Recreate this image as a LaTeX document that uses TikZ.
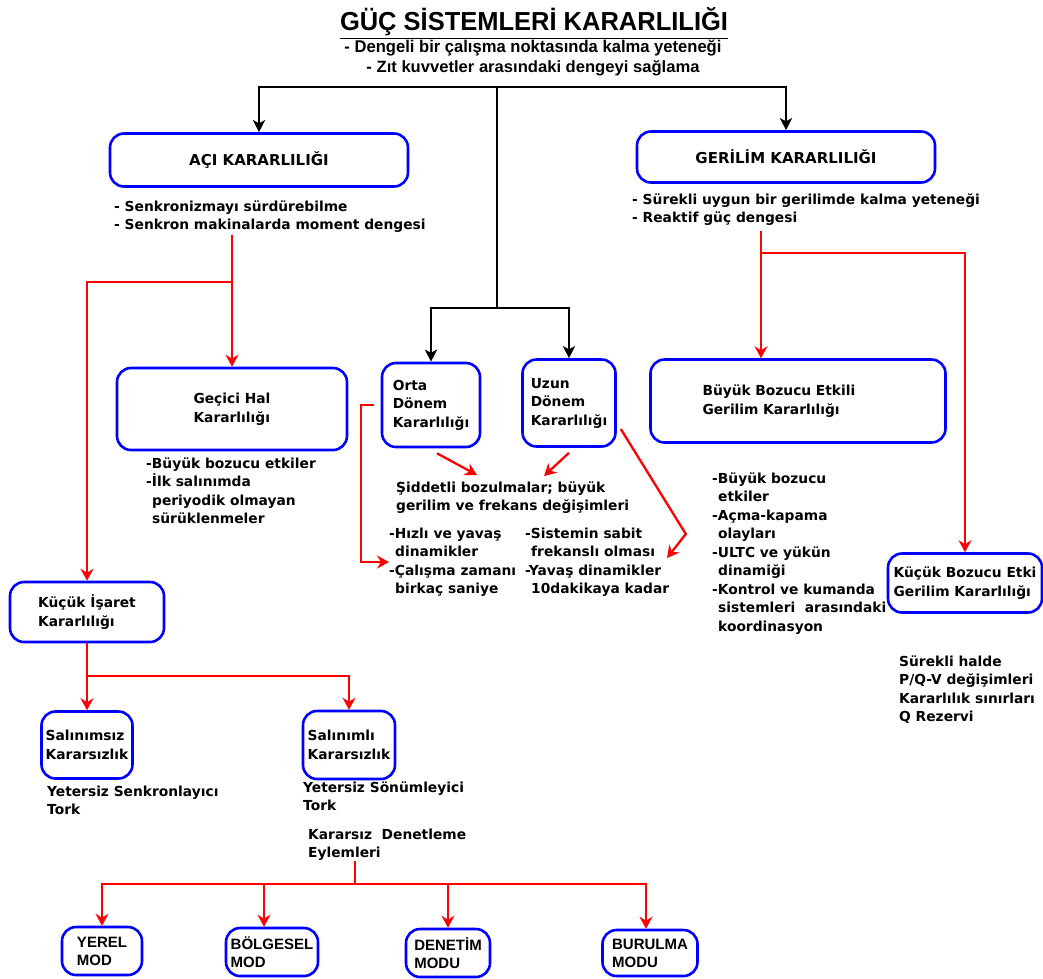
\documentclass[tikz,border=0pt]{standalone}
\usepackage{fontspec}
\usepackage{graphicx}
\setmainfont{DejaVu Sans}
\newfontfamily\titlefont{Liberation Sans}
\usetikzlibrary{arrows.meta,positioning}
\newcommand{\indl}{\hspace*{6pt}}

\begin{document}
\begin{tikzpicture}[x=1pt, y=-1pt,
    font=\bfseries\fontsize{13.8}{18.5}\selectfont,
    main/.style={draw=blue, line width=2.6pt, rounded corners=14pt, align=left, inner sep=2pt},
    big/.style={font=\bfseries\fontsize{15}{18.5}\selectfont},
    mod/.style={font=\titlefont\bfseries\fontsize{15}{18}\selectfont},
    note/.style={align=left, anchor=base west, inner sep=0pt},
    blk/.style={line width=2.2pt, -{Stealth[length=12pt,width=12pt,inset=3pt]}},
    rln/.style={red, line width=2.3pt},
    rarr/.style={rln, -{Stealth[length=12pt,width=13pt,inset=4pt]}}]
    \useasboundingbox (0,0) rectangle (1043,978);

    % title (base anchor = last line)
    \node[inner sep=0pt, anchor=base] (title) at (534,30) {\titlefont\resizebox{388pt}{23pt}{\underline{GÜÇ SİSTEMLERİ KARARLILIĞI}}};
    \node[align=center, anchor=base, inner sep=0pt, font=\bfseries\fontsize{13}{20}\selectfont] (sub) at (533,72)
        {\titlefont\resizebox{377pt}{12.5pt}{- Dengeli bir çalışma noktasında kalma yeteneği}\\
         \titlefont\resizebox{333pt}{12pt}{- Zıt kuvvetler arasındaki dengeyi sağlama}};

    % boxes
    \node[main, big, minimum width=298pt, minimum height=53pt] (aci) at (259,160) {AÇI KARARLILIĞI};
    \node[main, big, minimum width=298pt, minimum height=51pt] (ger) at (786,157) {GERİLİM KARARLILIĞI};
    \node[main, minimum width=230pt, minimum height=82pt] (gec) at (232,409) {Geçici Hal\\Kararlılığı};
    \node[main, minimum width=98pt, minimum height=84pt] (orta) at (431,405) {Orta\\Dönem\\Kararlılığı};
    \node[main, minimum width=93pt, minimum height=87pt] (uzun) at (569,403) {Uzun\\Dönem\\Kararlılığı};
    \node[main, text width=191pt, inner xsep=52pt, minimum height=83pt] (bbe) at (798,401) {Büyük Bozucu Etkili\\Gerilim Kararlılığı};
    \node[main, minimum width=154pt, minimum height=59pt] (kbe) at (965,583) {Küçük Bozucu Etki\\Gerilim Kararlılığı};
    \node[main, minimum width=154pt, minimum height=60pt] (kis) at (87,612) {Küçük İşaret\\Kararlılığı};
    \node[main, minimum width=91pt, minimum height=67pt] (saz) at (87,745) {Salınımsız\\Kararsızlık};
    \node[main, minimum width=92pt, minimum height=68pt] (sal) at (349,745) {Salınımlı\\Kararsızlık};
    \node[main, mod, minimum width=80pt, minimum height=48pt] (yer) at (102,951) {YEREL\\MOD};
    \node[main, mod, minimum width=92pt, minimum height=48pt] (bol) at (272,952) {BÖLGESEL\\MOD};
    \node[main, mod, minimum width=84pt, minimum height=48pt] (den) at (448,953) {DENETİM\\MODU};
    \node[main, mod, minimum width=95pt, minimum height=46pt] (bur) at (650,953) {BURULMA\\MODU};

    % notes (placed at the baseline of their last line)
    \node[note] (aciN) at (114,229.5) {- Senkronizmayı sürdürebilme\\- Senkron makinalarda moment dengesi};
    \node[note] (gerN) at (632,222.5) {- Sürekli uygun bir gerilimde kalma yeteneği\\- Reaktif güç dengesi};
    \node[note] (gecN) at (146,523.5) {-Büyük bozucu etkiler\\-İlk salınımda\\\indl periyodik olmayan\\\indl sürüklenmeler};
    \node[note] (sidN) at (396,510.5) {Şiddetli bozulmalar; büyük\\gerilim ve frekans değişimleri};
    \node[note] (hizN) at (389,593.5) {-Hızlı ve yavaş\\\indl dinamikler\\-Çalışma zamanı\\\indl birkaç saniye};
    \node[note] (sisN) at (525,593.5) {-Sistemin sabit\\\indl frekanslı olması\\-Yavaş dinamikler\\\indl 10dakikaya kadar};
    \node[note] (bbeN) at (712,631) {-Büyük bozucu\\\indl etkiler\\-Açma-kapama\\\indl olayları\\-ULTC ve yükün\\\indl dinamiği\\-Kontrol ve kumanda\\\indl sistemleri\ \ arasındaki\\\indl koordinasyon};
    \node[note] (surN) at (899,721.5) {Sürekli halde\\P/Q-V değişimleri\\Kararlılık sınırları\\Q Rezervi};
    \node[note] (ytsN) at (47,814.5) {Yetersiz Senkronlayıcı\\Tork};
    \node[note] (ytoN) at (303,810.5) {Yetersiz Sönümleyici\\Tork};
    \node[note] (kdeN) at (308,857.5) {Kararsız\ \ Denetleme\\Eylemleri};

    % black tree
    \coordinate (t) at (497,87);
    \coordinate (m) at (497,308);
    \draw[blk] (t) -| (aci);
    \draw[blk] (t) -| (ger);
    \draw[line width=2.2pt] (t) -- (m);
    \draw[blk] (m) -| (orta);
    \draw[blk] (m) -| (uzun);

    % red connectors
    \coordinate (r1) at (232,282);
    \draw[rarr] ([yshift=-2pt]aciN.south -| gec) -- (gec);
    \draw[rarr] (r1) -| (kis);
    \coordinate (r2) at (761,253);
    \draw[rarr] ([yshift=-5pt]gerN.south -| r2) -- (r2 |- bbe.north);
    \draw[rarr] (r2) -| (kbe);
    \draw[rarr] ([xshift=-7pt]orta.west) -- ++(-13,0) |- (hizN.west);
    \coordinate (s1) at (477,475);
    \coordinate (s2) at (544,476);
    \coordinate (s3) at (667,558);
    \draw[rarr] ([xshift=6pt,yshift=-5pt]orta.south) -- (s1);
    \draw[rarr] ([yshift=-5pt]uzun.south) -- (s2);
    \draw[rarr] ([xshift=4pt,yshift=-26pt]uzun.east) -- ++(65,105) -- (s3);
    \draw[rln] (kis.south) -- ++(0,33) coordinate (r3);
    \draw[rarr] (r3) -- (saz);
    \draw[rarr] (r3) -| (sal);
    \coordinate (r4) at (355,884);
    \draw[rln] (kdeN.south -| r4) -- (r4);
    \draw[rarr] (r4) -| (yer);
    \draw[rarr] (r4) -| ([xshift=-8pt]bol.north);
    \draw[rarr] (r4) -| (den);
    \draw[rarr] (r4) -| ([xshift=-4pt]bur.north);
\end{tikzpicture}
\end{document}
